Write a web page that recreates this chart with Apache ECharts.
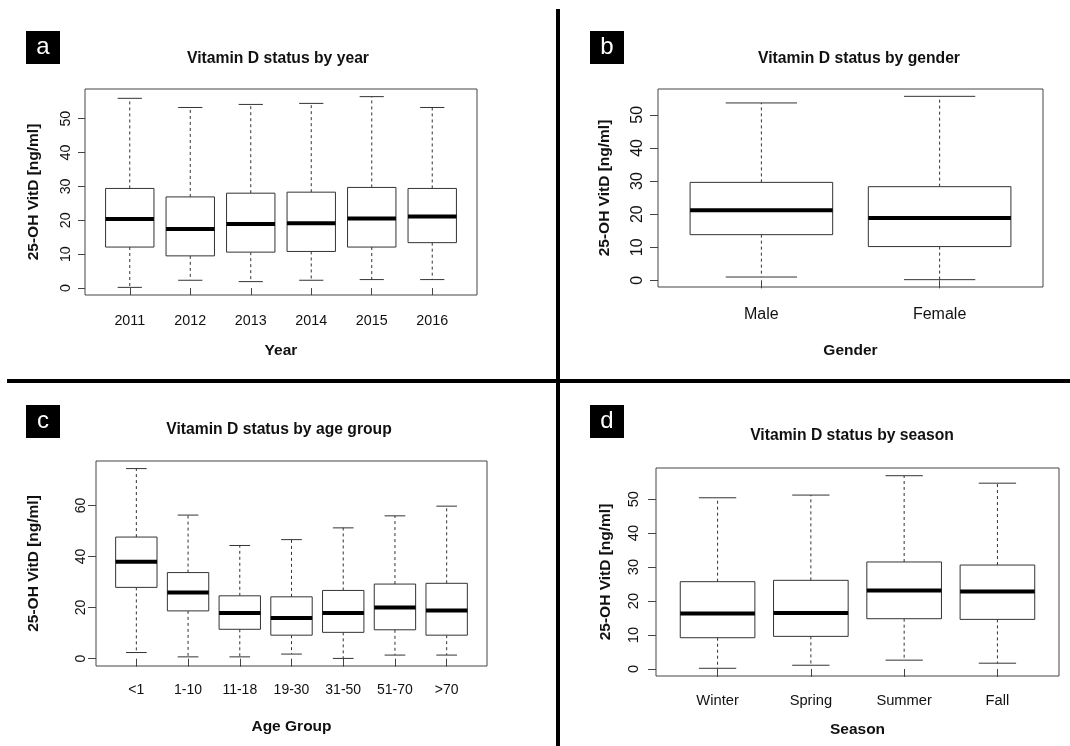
<!DOCTYPE html>
<html><head><meta charset="utf-8">
<script src="https://cdn.jsdelivr.net/npm/echarts@6/dist/echarts.min.js"></script>
<style>html,body{margin:0;padding:0;background:#fff}#c{width:1070px;height:746px}</style>
</head><body><div id="c"></div>
<script>
// ---------- Panel a: by year ----------
const yearCats = ['2011', '2012', '2013', '2014', '2015', '2016'];
const yearLow  = [0.2, 2.3, 1.9, 2.3, 2.5, 2.5];
const yearQ1   = [12.1, 9.5, 10.6, 10.8, 12.1, 13.4];
const yearMed  = [20.4, 17.4, 18.9, 19.1, 20.5, 21.1];
const yearQ3   = [29.4, 26.9, 28.0, 28.3, 29.7, 29.4];
const yearHigh = [56.0, 53.3, 54.2, 54.5, 56.5, 53.3];

// ---------- Panel b: by gender ----------
const genderCats = ['Male', 'Female'];
const genderLow  = [1.0, 0.2];
const genderQ1   = [13.8, 10.2];
const genderMed  = [21.2, 18.8];
const genderQ3   = [29.6, 28.3];
const genderHigh = [53.6, 55.6];

// ---------- Panel c: by age group ----------
const ageCats = ['<1', '1-10', '11-18', '19-30', '31-50', '51-70', '>70'];
const ageLow  = [2.4, 0.7, 0.7, 1.8, 0.1, 1.4, 1.4];
const ageQ1   = [27.9, 18.7, 11.5, 9.2, 10.3, 11.3, 9.2];
const ageMed  = [37.9, 25.9, 17.9, 15.9, 17.9, 20.0, 18.9];
const ageQ3   = [47.6, 33.7, 24.6, 24.2, 26.7, 29.2, 29.5];
const ageHigh = [74.4, 56.2, 44.3, 46.6, 51.2, 55.9, 59.7];

// ---------- Panel d: by season ----------
const seasonCats = ['Winter', 'Spring', 'Summer', 'Fall'];
const seasonLow  = [0.2, 1.1, 2.6, 1.7];
const seasonQ1   = [9.2, 9.6, 14.8, 14.6];
const seasonMed  = [16.3, 16.5, 23.1, 22.8];
const seasonQ3   = [25.7, 26.1, 31.5, 30.6];
const seasonHigh = [50.4, 51.2, 56.9, 54.7];

// ---------- tick labels ----------
const yTicksStep10 = [0, 10, 20, 30, 40, 50];
const yTicksStep20 = [0, 20, 40, 60];
const yAxisTitle = '25-OH VitD [ng/ml]';

const FONT = '"Liberation Sans", Arial, Helvetica, sans-serif';

const panels = [
  { letter: 'a', title: 'Vitamin D status by year', xName: 'Year',
    cats: yearCats, low: yearLow, q1: yearQ1, med: yearMed, q3: yearQ3, high: yearHigh, ticks: yTicksStep10,
    grid: { left: 85, top: 89, width: 392, height: 206 }, titleXY: [278, 59], box: [26, 31],
    fs: 14.3, yMargin: 12, xMargin: 19, tickLen: 7, xNameGap: 48, yNameGap: 43 },
  { letter: 'b', title: 'Vitamin D status by gender', xName: 'Gender',
    cats: genderCats, low: genderLow, q1: genderQ1, med: genderMed, q3: genderQ3, high: genderHigh, ticks: yTicksStep10,
    grid: { left: 658, top: 89, width: 385, height: 198 }, titleXY: [859, 59], box: [590, 31],
    fs: 16, yMargin: 12, xMargin: 20, tickLen: 8, xNameGap: 56, yNameGap: 45 },
  { letter: 'c', title: 'Vitamin D status by age group', xName: 'Age Group',
    cats: ageCats, low: ageLow, q1: ageQ1, med: ageMed, q3: ageQ3, high: ageHigh, ticks: yTicksStep20,
    grid: { left: 96, top: 461, width: 391, height: 205 }, titleXY: [279, 430], box: [26, 405],
    fs: 14, yMargin: 8, xMargin: 17.5, tickLen: 8, xNameGap: 53, yNameGap: 54 },
  { letter: 'd', title: 'Vitamin D status by season', xName: 'Season',
    cats: seasonCats, low: seasonLow, q1: seasonQ1, med: seasonMed, q3: seasonQ3, high: seasonHigh, ticks: yTicksStep10,
    grid: { left: 656, top: 468, width: 403, height: 208 }, titleXY: [852, 436], box: [590, 405],
    fs: 14.7, yMargin: 15, xMargin: 17, tickLen: 8, xNameGap: 46, yNameGap: 42 }
];

function renderBox(params, api) {
  const x = api.value(0);
  const lo = api.coord([x, api.value(1)]);
  const q1 = api.coord([x, api.value(2)]);
  const md = api.coord([x, api.value(3)]);
  const q3 = api.coord([x, api.value(4)]);
  const hi = api.coord([x, api.value(5)]);
  const bw = api.size([0.8, 0])[0];
  const cw = api.size([0.4, 0])[0];
  const cx = lo[0];
  const line = '#333';
  return {
    type: 'group',
    children: [
      { type: 'line', shape: { x1: cx, y1: q1[1], x2: cx, y2: lo[1] }, style: { stroke: line, lineWidth: 1, lineDash: [3, 3] } },
      { type: 'line', shape: { x1: cx, y1: q3[1], x2: cx, y2: hi[1] }, style: { stroke: line, lineWidth: 1, lineDash: [3, 3] } },
      { type: 'line', shape: { x1: cx - cw / 2, y1: lo[1], x2: cx + cw / 2, y2: lo[1] }, style: { stroke: line, lineWidth: 1 } },
      { type: 'line', shape: { x1: cx - cw / 2, y1: hi[1], x2: cx + cw / 2, y2: hi[1] }, style: { stroke: line, lineWidth: 1 } },
      { type: 'rect', shape: { x: cx - bw / 2, y: q3[1], width: bw, height: q1[1] - q3[1] }, style: { fill: '#fff', stroke: line, lineWidth: 1 } },
      { type: 'line', shape: { x1: cx - bw / 2, y1: md[1], x2: cx + bw / 2, y2: md[1] }, style: { stroke: '#000', lineWidth: 4 } }
    ]
  };
}

const grids = [], xAxes = [], yAxes = [], series = [], graphics = [];

panels.forEach((p, i) => {
  const n = p.cats.length;
  const allVals = p.low.concat(p.high);
  const dMin = Math.min.apply(null, allVals), dMax = Math.max.apply(null, allVals);
  const ext = (dMax - dMin) * 0.04;
  const xExt = n * 0.04;
  const xVals = p.cats.map((c, k) => k + 1);

  grids.push(Object.assign({ show: true, borderColor: '#444', borderWidth: 1, backgroundColor: 'transparent', outerBoundsMode: 'none', containLabel: false }, p.grid));

  xAxes.push({
    gridIndex: i, type: 'value', min: 0.5 - xExt, max: n + 0.5 + xExt,
    name: p.xName, nameLocation: 'middle', nameGap: p.xNameGap,
    nameTextStyle: { fontFamily: FONT, fontWeight: 'bold', fontSize: 15.5, color: '#111' },
    axisLine: { show: false },
    splitLine: { show: false },
    axisTick: { show: true, length: p.tickLen, lineStyle: { color: '#444' }, customValues: xVals },
    axisLabel: { show: true, customValues: xVals, margin: p.xMargin, fontFamily: FONT, fontSize: p.fs, color: '#111',
      formatter: v => p.cats[Math.round(v) - 1] || '' }
  });

  yAxes.push({
    gridIndex: i, type: 'value', min: dMin - ext, max: dMax + ext,
    name: yAxisTitle, nameLocation: 'middle', nameGap: p.yNameGap, nameRotate: 90,
    nameTextStyle: { fontFamily: FONT, fontWeight: 'bold', fontSize: 15.5, color: '#111' },
    axisLine: { show: false },
    splitLine: { show: false },
    axisTick: { show: true, length: p.tickLen, lineStyle: { color: '#444' }, customValues: p.ticks },
    axisLabel: { show: true, rotate: 90, customValues: p.ticks, margin: p.yMargin, fontFamily: FONT, fontSize: p.fs, color: '#111' }
  });

  const data = p.cats.map((c, k) => [k + 1, p.low[k], p.q1[k], p.med[k], p.q3[k], p.high[k]]);
  series.push({
    type: 'custom', xAxisIndex: i, yAxisIndex: i, renderItem: renderBox, data: data,
    encode: { x: 0, y: [1, 2, 3, 4, 5] }, clip: false, silent: true
  });

  graphics.push({
    type: 'text', x: p.titleXY[0], y: p.titleXY[1],
    style: { text: p.title, fill: '#111', font: 'bold 15.7px ' + FONT, align: 'center', verticalAlign: 'middle', textAlign: 'center', textVerticalAlign: 'middle' }
  });
  graphics.push({ type: 'rect', shape: { x: p.box[0], y: p.box[1], width: 34, height: 33 }, style: { fill: '#000' } });
  graphics.push({
    type: 'text', x: p.box[0] + 17, y: p.box[1] + 16,
    style: { text: p.letter, fill: '#fff', font: '24px ' + FONT, align: 'center', verticalAlign: 'middle', textAlign: 'center', textVerticalAlign: 'middle' }
  });
});

// panel dividers
graphics.push({ type: 'rect', shape: { x: 556, y: 9, width: 4, height: 737 }, style: { fill: '#000' } });
graphics.push({ type: 'rect', shape: { x: 7, y: 379, width: 1063, height: 4 }, style: { fill: '#000' } });

const chart = echarts.init(document.getElementById('c'), null, { renderer: 'canvas' });
chart.setOption({
  animation: false,
  backgroundColor: '#fff',
  textStyle: { fontFamily: FONT },
  grid: grids,
  xAxis: xAxes,
  yAxis: yAxes,
  series: series,
  graphic: graphics
});
</script>
</body></html>
